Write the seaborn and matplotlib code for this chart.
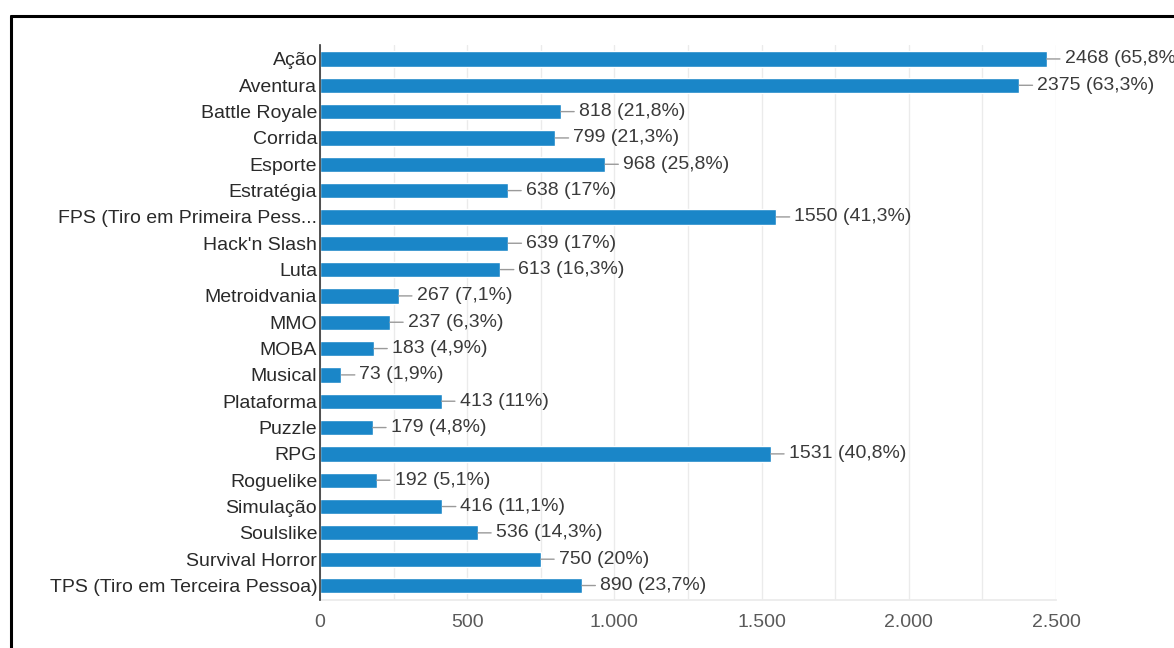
import matplotlib
matplotlib.use("Agg")
import matplotlib.pyplot as plt
from matplotlib.lines import Line2D
from matplotlib.ticker import MultipleLocator, FuncFormatter
import seaborn as sns
import pandas as pd

categories = ["Ação", "Aventura", "Battle Royale", "Corrida", "Esporte", "Estratégia",
              "FPS (Tiro em Primeira Pess...", "Hack'n Slash", "Luta", "Metroidvania",
              "MMO", "MOBA", "Musical", "Plataforma", "Puzzle", "RPG", "Roguelike",
              "Simulação", "Soulslike", "Survival Horror", "TPS (Tiro em Terceira Pessoa)"]
values = [2468, 2375, 818, 799, 968, 638, 1550, 639, 613, 267, 237, 183, 73, 413, 179,
          1531, 192, 416, 536, 750, 890]
percents = ["65,8%", "63,3%", "21,8%", "21,3%", "25,8%", "17%", "41,3%", "17%", "16,3%",
            "7,1%", "6,3%", "4,9%", "1,9%", "11%", "4,8%", "40,8%", "5,1%", "11,1%",
            "14,3%", "20%", "23,7%"]
x_ticks = [0, 500, 1000, 1500, 2000, 2500]

sns.set_theme(style="white")
plt.rcParams['font.family'] = ['Liberation Sans', 'DejaVu Sans']

W, H = 1174, 648
fig = plt.figure(figsize=(W / 100, H / 100), dpi=100)
fig.patch.set_facecolor("white")
ax = fig.add_axes([320 / W, 1 - 600 / H, (1056 - 320) / W, (600 - 45) / H])

df = pd.DataFrame({"cat": categories, "val": values})
sns.barplot(data=df, y="cat", x="val", orient="h", color="#1a86c8", saturation=1,
            width=0.58, ax=ax, zorder=3)

ax.set_xlim(0, 2500)
ax.set_ylim(len(categories) - 0.45, -0.53)
ax.set_xticks(x_ticks)
ax.xaxis.set_minor_locator(MultipleLocator(250))
ax.xaxis.set_major_formatter(FuncFormatter(lambda v, p: f"{int(v):,}".replace(",", ".")))
ax.grid(axis="x", which="both", color="#ebebeb", lw=1, zorder=0)
ax.set_axisbelow(True)
ax.set_xlabel("")
ax.set_ylabel("")
ax.tick_params(axis="x", which="both", length=0, labelsize=14, labelcolor="#5a5a5a", pad=10)
ax.tick_params(axis="y", length=0, labelsize=14, labelcolor="#2a2a2a", pad=2)
for s in ["top", "right"]:
    ax.spines[s].set_visible(False)
ax.spines["bottom"].set_color("#ebebeb")
ax.spines["left"].set_color("#333333")
ax.spines["left"].set_linewidth(1.2)
ax.spines["left"].set_zorder(5)

for i, (v, p) in enumerate(zip(values, percents)):
    ax.annotate(f"{v} ({p})", xy=(v, i), xytext=(18, 0), textcoords="offset pixels",
                va="center", ha="left", fontsize=14, color="#3a3a3a",
                annotation_clip=False,
                arrowprops=dict(arrowstyle="-", color="#9a9a9a", lw=1,
                                shrinkA=1, shrinkB=0))

# outer black frame (left and top edges visible)
fig.add_artist(Line2D([10.5 / W, 10.5 / W], [0, 1 - 15.5 / H], transform=fig.transFigure,
                      color="black", lw=2.2))
fig.add_artist(Line2D([10.5 / W, 1], [1 - 15.5 / H, 1 - 15.5 / H], transform=fig.transFigure,
                      color="black", lw=2.2))

fig.savefig("out.png", dpi=100)
